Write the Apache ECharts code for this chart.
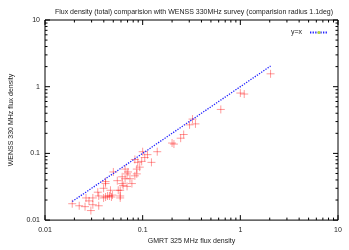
<!DOCTYPE html>
<html><head><meta charset="utf-8">
<script src="https://cdn.jsdelivr.net/npm/echarts@6/dist/echarts.min.js"></script>
<style>html,body{margin:0;padding:0;background:#fff}#c{width:349px;height:250px}</style>
</head><body><div id="c"></div>
<script>
var gmrt = [0.019,0.0224,0.0257,0.0295,0.0309,0.0309,0.0355,0.0355,0.0263,0.0347,0.0398,0.0437,0.049,0.0468,0.0398,0.0417,0.0501,0.055,0.0589,0.0589,0.0617,0.0661,0.0692,0.0708,0.0832,0.0891,0.0977,0.0933,0.0871,0.0776,0.1,0.0562,0.0631,0.0692,0.0741,0.0832,0.0871,0.105,0.112,0.123,0.141,0.2,0.209,0.245,0.263,0.302,0.324,0.347,0.631,1.0,1.096,2.04,0.0417,0.0457,0.0479,0.0589,0.0282,0.0617,0.0661,0.0417];
var wenss = [0.0176,0.0164,0.0159,0.0139,0.017,0.0215,0.0164,0.023,0.0215,0.0262,0.0215,0.023,0.0237,0.028,0.03,0.0378,0.0527,0.039,0.023,0.028,0.0353,0.0417,0.0493,0.0527,0.0811,0.0734,0.0759,0.0622,0.0493,0.0353,0.106,0.028,0.0331,0.032,0.0417,0.0461,0.0582,0.0867,0.0958,0.0734,0.106,0.143,0.138,0.169,0.192,0.268,0.327,0.277,0.456,0.803,0.776,1.56,0.0222,0.023,0.0222,0.0215,0.0194,0.0446,0.0582,0.0353];
var lineX = [0.019, 2.04];
var majorTicks = [0.01, 0.1, 1, 10];
var minorMult = [2,3,4,5,6,7,8,9];
var titleText = 'Flux density (total) comparision with WENSS 330MHz survey (comparision radius 1.1deg)';

var pts = gmrt.map(function(v,i){return [v, wenss[i]];});
var minorTicks = [];
for (var k = 0; k < majorTicks.length - 1; k++) minorMult.forEach(function(m){ minorTicks.push(majorTicks[k]*m); });

var font = 'Liberation Sans, Arial, sans-serif';
var chart = echarts.init(document.getElementById('c'), null, {renderer:'canvas'});
chart.setOption({
  animation: false,
  title: {text: titleText, left: 189, textAlign: 'center', top: 4, textStyle: {fontSize: 7, fontWeight: 'normal', color: '#222', fontFamily: font}},
  grid: {left: 38, right: 11, top: 20, bottom: 22, show: true, borderColor: '#000', borderWidth: 1, backgroundColor: 'transparent'},
  xAxis: {type: 'log', logBase: 10, min: 0.01, max: 10, splitLine: {show: false}, axisLine: {show: false}, axisTick: {show: false},
    axisLabel: {fontSize: 7, color: '#222', fontFamily: font, margin: 6},
    name: 'GMRT 325 MHz flux density', nameLocation: 'middle', nameGap: 17, nameTextStyle: {fontSize: 7, color: '#222', fontFamily: font}},
  yAxis: {type: 'log', logBase: 10, min: 0.01, max: 10, splitLine: {show: false}, axisLine: {show: false}, axisTick: {show: false},
    axisLabel: {fontSize: 7, color: '#222', fontFamily: font, margin: 5},
    name: 'WENSS 330 MHz flux density', nameLocation: 'middle', nameGap: 30, nameTextStyle: {fontSize: 7, color: '#222', fontFamily: font}},
  legend: {show: true, data: ['y=x'], right: 15, top: 24, align: 'right', itemWidth: 18, itemHeight: 4, itemGap: 0,
    textStyle: {fontSize: 7, color: '#222', fontFamily: font, padding: [0, 3, 0, 0]}},
  series: [
    {type: 'custom', silent: true, data: [0], renderItem: function(params, api){
      var ch = [];
      function add(v, len){
        var b = api.coord([v, 0.01]), t = api.coord([v, 10]);
        ch.push({type:'line', shape:{x1:b[0],y1:b[1],x2:b[0],y2:b[1]-len}, style:{stroke:'#000', lineWidth:1}});
        ch.push({type:'line', shape:{x1:t[0],y1:t[1],x2:t[0],y2:t[1]+len}, style:{stroke:'#000', lineWidth:1}});
        var l = api.coord([0.01, v]), r = api.coord([10, v]);
        ch.push({type:'line', shape:{x1:l[0],y1:l[1],x2:l[0]+len,y2:l[1]}, style:{stroke:'#000', lineWidth:1}});
        ch.push({type:'line', shape:{x1:r[0],y1:r[1],x2:r[0]-len,y2:r[1]}, style:{stroke:'#000', lineWidth:1}});
      }
      majorTicks.forEach(function(v){ add(v, 5); });
      minorTicks.forEach(function(v){ add(v, 2.5); });
      return {type:'group', children: ch};
    }},
    {name: 'data', type: 'scatter', data: pts, symbol: 'path://M0,5 L10,5 M5,0 L5,10', symbolSize: 8,
      itemStyle: {color: 'none', borderColor: 'rgba(255,0,0,0.5)', borderWidth: 1}},
    {name: 'y=x', type: 'line', data: lineX.map(function(v){return [v, v];}), symbol: 'none',
      lineStyle: {color: '#2020ff', width: 1.3, type: [1.3, 1.3]}}
  ]
});
</script></body></html>
